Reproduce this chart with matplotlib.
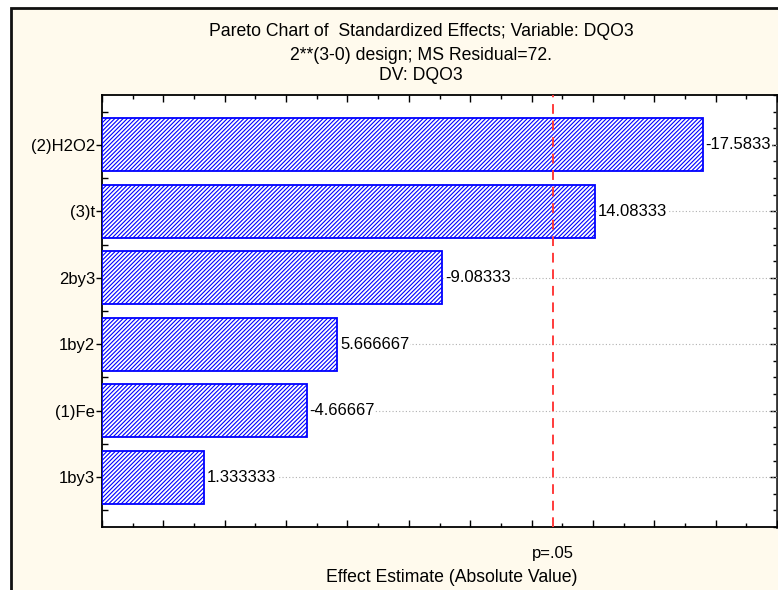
import matplotlib
matplotlib.use("Agg")
import matplotlib.pyplot as plt
from matplotlib.patches import Rectangle
from matplotlib.ticker import MultipleLocator, NullFormatter

plt.rcParams['font.family'] = ['Liberation Sans', 'DejaVu Sans']
plt.rcParams['hatch.linewidth'] = 0.8

# Standardized effects (signed) for each term, ordered by magnitude
terms = ["(2)H2O2", "(3)t", "2by3", "1by2", "(1)Fe", "1by3"]
effects = [-17.58333, 14.08333, -9.08333, 5.666667, -4.666667, 1.333333]
t_crit = 12.706  # p = .05, df = 1

title_lines = ["Pareto Chart of  Standardized Effects; Variable: DQO3",
               "2**(3-0) design; MS Residual=72.",
               "DV: DQO3"]
xlabel = "Effect Estimate (Absolute Value)"
p_label = "p=.05"

W, H = 778, 590
fig = plt.figure(figsize=(W / 100, H / 100), dpi=100, facecolor="white")

# cream panel behind the chart
fig.patches.append(Rectangle((11 / W, -0.05), 1.2, 1 - 7.5 / H + 0.05,
                             transform=fig.transFigure, facecolor="#FFFAED",
                             edgecolor="#111111", linewidth=2, zorder=-5))

ax = fig.add_axes([102 / W, (H - 527) / H, (777 - 102) / W, (527 - 95) / H])
ax.set_facecolor("white")

x_min, x_max = -2, 20
mags = [abs(v) for v in effects]
ypos = list(range(len(terms)))
# bars run from the left edge of the axis out to |effect|
ax.barh(ypos, [m - x_min for m in mags], height=0.8, left=x_min, color="white",
        edgecolor="#0000FF", linewidth=1.3, hatch="////////", zorder=3)

for y, v, m in zip(ypos, effects, mags):
    ax.text(m + 0.09, y, f"{v:.{7 - (v < 0)}g}", va="center", ha="left",
            fontsize=12, color="black", zorder=4,
            bbox=dict(facecolor="white", edgecolor="none", pad=0.5))

# dotted guides at each term
for y in ypos:
    ax.axhline(y, color="#B0B0B0", linestyle=(0, (1, 2)), linewidth=0.8, zorder=1)

ax.axvline(t_crit, color="#FF3B3B", linestyle=(0, (5, 3.5)), linewidth=1.4, zorder=5)

ax.set_xlim(x_min, x_max)
ax.set_ylim(5.75, -0.75)

ax.set_yticks(ypos)
ax.set_yticklabels(terms, fontsize=12)
ax.yaxis.set_minor_locator(MultipleLocator(0.5))
ax.tick_params(axis="y", which="major", direction="out", length=4, width=1, pad=1)
ax.tick_params(axis="y", which="minor", direction="in", length=4, width=1, left=True)

ax.xaxis.set_major_locator(MultipleLocator(2))
ax.xaxis.set_minor_locator(MultipleLocator(1))
ax.xaxis.set_major_formatter(NullFormatter())
ax.tick_params(axis="x", which="major", direction="in", length=5, width=1,
               top=True, bottom=True)
ax.tick_params(axis="x", which="minor", direction="in", length=3, width=1,
               top=True, bottom=True)

# right-hand axis with finer ticks
sec = ax.secondary_yaxis("right")
sec.set_yticks(ypos)
sec.yaxis.set_major_formatter(NullFormatter())
sec.yaxis.set_minor_locator(MultipleLocator(0.25))
sec.tick_params(which="major", direction="in", length=5, width=1)
sec.tick_params(which="minor", direction="in", length=3, width=1)
sec.spines["right"].set_linewidth(2)
sec.spines["right"].set_color("#333333")

for s in ["left", "bottom", "top"]:
    ax.spines[s].set_linewidth(1.3)
    ax.spines[s].set_color("black")
ax.spines["right"].set_visible(False)

# titles and axis captions
for txt, yy in zip(title_lines, [32, 55, 76]):
    fig.text(421 / W, 1 - yy / H, txt, ha="center", va="center", fontsize=12.7)

ax.text(t_crit, -0.045, p_label, transform=ax.get_xaxis_transform(),
        ha="center", va="top", fontsize=12)
fig.text(452 / W, 1 - 577 / H, xlabel, ha="center", va="center", fontsize=12.7)

fig.savefig("out.png", dpi=100, facecolor="white")
